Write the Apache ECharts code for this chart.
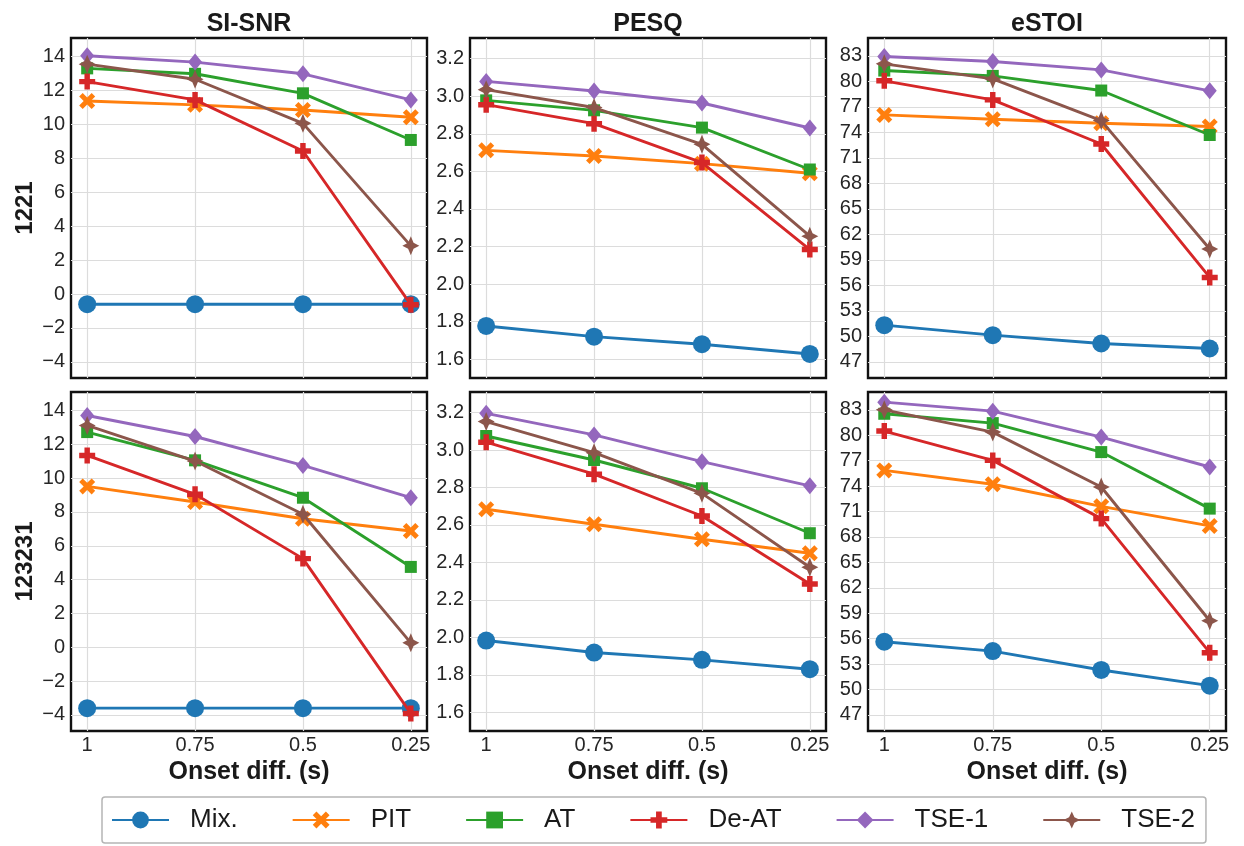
<!DOCTYPE html>
<html>
<head>
<meta charset="utf-8">
<script src="https://cdn.jsdelivr.net/npm/echarts@6/dist/echarts.min.js"></script>
<style>
html,body{margin:0;padding:0;background:#fff;}
#chart{width:1244px;height:846px;}
</style>
</head>
<body>
<div id="chart"></div>
<script>
// ---------- data ----------
const onsets = [1, 0.75, 0.5, 0.25];
const methods = ['Mix.', 'PIT', 'AT', 'De-AT', 'TSE-1', 'TSE-2'];
const metrics = ['SI-SNR', 'PESQ', 'eSTOI'];
const conditions = ['1221', '123231'];

// rows follow `methods`, columns follow `onsets`
const siSnr1221 = [
  [-0.6, -0.6, -0.6, -0.6],
  [11.38, 11.15, 10.85, 10.42],
  [13.3, 12.98, 11.83, 9.08],
  [12.52, 11.44, 8.43, -0.63],
  [14.04, 13.67, 12.98, 11.44],
  [13.55, 12.66, 10.06, 2.84]
];
const pesq1221 = [
  [1.777, 1.72, 1.68, 1.628],
  [2.712, 2.682, 2.641, 2.59],
  [2.978, 2.925, 2.833, 2.61],
  [2.955, 2.854, 2.647, 2.184],
  [3.079, 3.028, 2.964, 2.831],
  [3.035, 2.94, 2.744, 2.255]
];
const estoi1221 = [
  [51.32, 50.14, 49.16, 48.57],
  [76.05, 75.54, 75.07, 74.68],
  [81.27, 80.64, 78.92, 73.69],
  [80.06, 77.82, 72.63, 56.93],
  [82.92, 82.33, 81.35, 78.88],
  [82.06, 80.29, 75.38, 60.27]
];
const siSnr123231 = [
  [-3.6, -3.6, -3.6, -3.6],
  [9.51, 8.59, 7.6, 6.87],
  [12.72, 11.05, 8.84, 4.75],
  [11.34, 9.04, 5.24, -3.91],
  [13.7, 12.46, 10.75, 8.84],
  [13.11, 11.01, 7.86, 0.26]
];
const pesq123231 = [
  [1.983, 1.919, 1.88, 1.83],
  [2.684, 2.604, 2.524, 2.449],
  [3.075, 2.947, 2.796, 2.556],
  [3.042, 2.871, 2.648, 2.285],
  [3.196, 3.081, 2.938, 2.809],
  [3.152, 2.986, 2.769, 2.374]
];
const estoi123231 = [
  [55.63, 54.53, 52.3, 50.45],
  [75.85, 74.21, 71.61, 69.3],
  [82.53, 81.43, 78.01, 71.34],
  [80.49, 77.03, 70.16, 54.34],
  [83.9, 82.84, 79.78, 76.25],
  [83.0, 80.37, 73.89, 58.11]
];

const siSnrTicks = [-4, -2, 0, 2, 4, 6, 8, 10, 12, 14];
const pesqTicks = [1.6, 1.8, 2.0, 2.2, 2.4, 2.6, 2.8, 3.0, 3.2];
const estoiTicks = [47, 50, 53, 56, 59, 62, 65, 68, 71, 74, 77, 80, 83];

// ---------- styling / layout ----------
const FONT = '"Liberation Sans", Arial, Helvetica, sans-serif';
const colors = ['#1f77b4', '#ff7f0e', '#2ca02c', '#d62728', '#9467bd', '#8c564b'];
const symbols = [
  'circle',
  'path://M0 2.2L2.2 0L5 2.8L7.8 0L10 2.2L7.2 5L10 7.8L7.8 10L5 7.2L2.2 10L0 7.8L2.8 5Z',
  'rect',
  'path://M3.3 0H6.7V3.3H10V6.7H6.7V10H3.3V6.7H0V3.3H3.3Z',
  'diamond',
  'path://M5 0L6.6 3.4L10 5L6.6 6.6L5 10L3.4 6.6L0 5L3.4 3.4Z'
];
const symbolSizes = [18, 16, 12, 16, [14, 17], [17, 19]];

const panelData = [
  [siSnr1221, pesq1221, estoi1221],
  [siSnr123231, pesq123231, estoi123231]
];
const panelTicks = [siSnrTicks, pesqTicks, estoiTicks];
const yRanges = [[-4.95, 15.09], [1.50, 3.31], [45.1, 85.1]];
const xRange = [0.2125, 1.0375];

const colLeft = [71, 470, 868];
const colWidth = [356, 356, 358];
const rowTop = [38, 392];
const rowHeight = [340, 339];

const labelColor = '#262626';

const grids = [], xAxes = [], yAxes = [], series = [], titles = [];
let gi = 0;
for (let r = 0; r < 2; r++) {
  for (let c = 0; c < 3; c++) {
    grids.push({
      left: colLeft[c], top: rowTop[r], width: colWidth[c], height: rowHeight[r],
      show: true, borderColor: '#111', borderWidth: 2.4, backgroundColor: '#fff',
      containLabel: false
    });
    xAxes.push({
      gridIndex: gi, type: 'value', inverse: true,
      min: xRange[0], max: xRange[1],
      axisLine: { show: false },
      axisTick: { show: false, customValues: onsets },
      axisLabel: {
        show: r === 1, customValues: onsets, margin: 4,
        fontSize: 20, fontFamily: FONT, color: labelColor,
        formatter: v => String(v)
      },
      splitLine: { show: true, lineStyle: { color: '#dcdcdc', width: 1.2 } },
      name: r === 1 ? 'Onset diff. (s)' : '',
      nameLocation: 'middle', nameGap: 29,
      nameTextStyle: { fontSize: 25, fontWeight: 'bold', fontFamily: FONT, color: '#1a1a1a' }
    });
    const ticks = panelTicks[c];
    yAxes.push({
      gridIndex: gi, type: 'value',
      min: yRanges[c][0], max: yRanges[c][1],
      axisLine: { show: false },
      axisTick: { show: false, customValues: ticks },
      axisLabel: {
        customValues: ticks, margin: 6,
        fontSize: 20, fontFamily: FONT, color: labelColor,
        formatter: v => (c === 1 ? v.toFixed(1) : String(Math.round(v))).replace('-', '\u2212')
      },
      splitLine: { show: true, lineStyle: { color: '#dcdcdc', width: 1.2 } },
      name: c === 0 ? conditions[r] : '',
      nameLocation: 'middle', nameGap: 34, nameRotate: 90,
      nameTextStyle: { fontSize: 24, fontWeight: 'bold', fontFamily: FONT, color: '#1a1a1a' }
    });
    const d = panelData[r][c];
    for (let m = 0; m < methods.length; m++) {
      series.push({
        type: 'line', name: methods[m],
        xAxisIndex: gi, yAxisIndex: gi,
        data: onsets.map((x, k) => [x, d[m][k]]),
        symbol: symbols[m], symbolSize: symbolSizes[m],
        showAllSymbol: true,
        color: colors[m],
        itemStyle: { color: colors[m], borderWidth: 0 },
        lineStyle: { color: colors[m], width: 2.9 },
        emphasis: { disabled: true },
        animation: false,
        clip: false,
        z: 2 + m * 0.01
      });
    }
    gi++;
  }
}
for (let c = 0; c < 3; c++) {
  titles.push({
    text: metrics[c], left: colLeft[c] + colWidth[c] / 2, top: 12, textAlign: 'center', padding: 0,
    textStyle: { fontSize: 25, fontWeight: 'bold', fontFamily: FONT, color: '#1a1a1a' }
  });
}

const chart = echarts.init(document.getElementById('chart'), null, { renderer: 'canvas' });
chart.setOption({
  backgroundColor: '#fff',
  animation: false,
  title: titles,
  grid: grids,
  xAxis: xAxes,
  yAxis: yAxes,
  series: series,
  legend: {
    data: methods,
    left: 102, top: 797,
    padding: [10, 11, 10, 9],
    itemGap: 54, itemWidth: 57, itemHeight: 21,
    borderColor: '#b5b5b5', borderWidth: 1.5, borderRadius: 3,
    textStyle: { fontSize: 26, fontFamily: FONT, color: '#1a1a1a', padding: [0, 0, 0, 16] },
    selectedMode: false
  }
});
</script>
</body>
</html>
